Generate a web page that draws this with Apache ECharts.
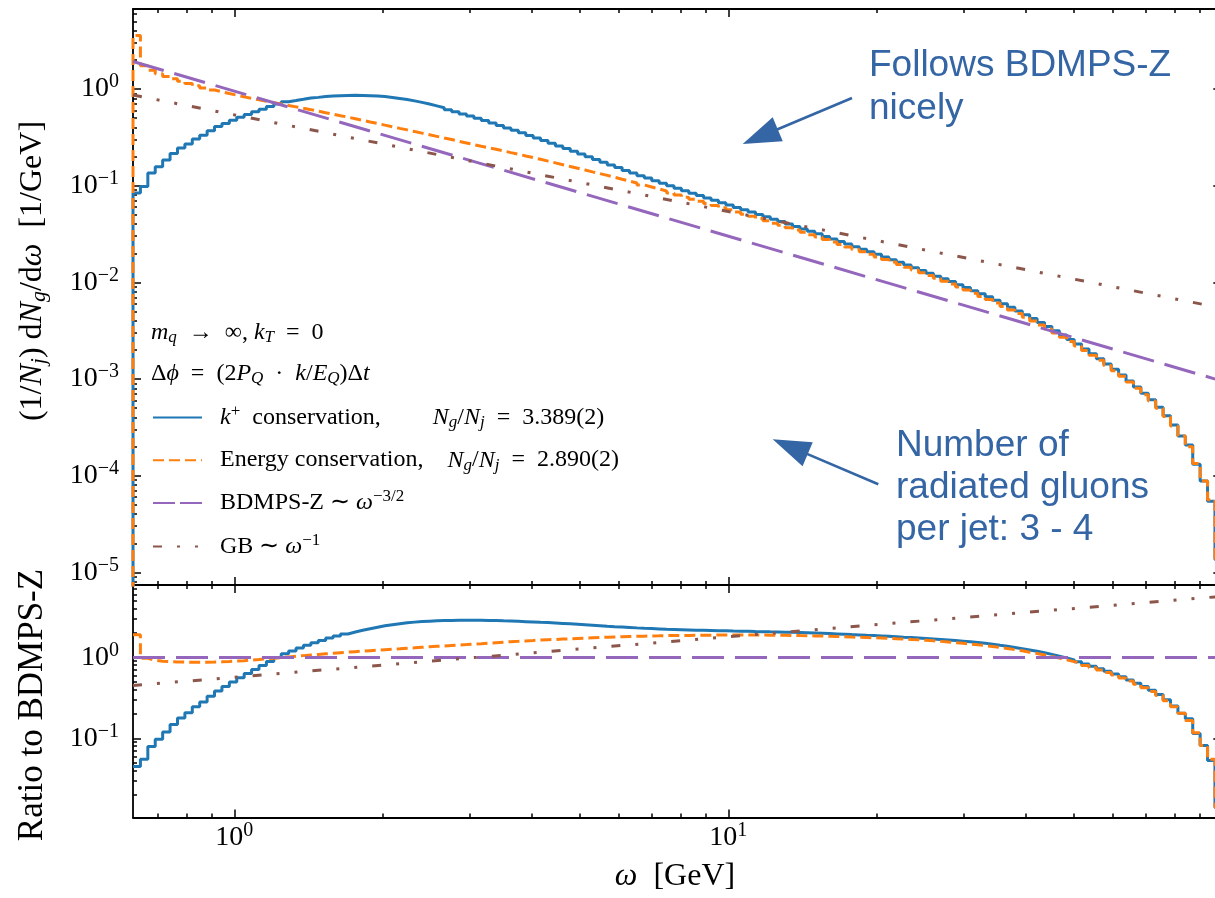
<!DOCTYPE html>
<html><head><meta charset="utf-8">
<script src="https://cdn.jsdelivr.net/npm/echarts@6/dist/echarts.min.js"></script>
<style>html,body{margin:0;padding:0;background:#fff}#c{width:1215px;height:898px}</style>
</head><body><div id="c"></div>
<script>
// ---------------- data ----------------
// log-spaced histogram bins in omega [GeV]
const binLogStart = -0.205;   // log10 of first bin edge
const binLogWidth = 0.015;    // bin width in decades
// (1/N_j) dN_g/domega, k+ conservation
const kPlusDensity = [0.0840,0.0981,0.135,0.157,0.184,0.215,0.245,0.270,0.305,0.332,0.371,0.409,0.441,0.475,0.512,0.545,0.581,0.619,0.659,0.702,0.740,0.761,0.783,0.806,0.820,0.835,0.849,0.854,0.859,0.860,0.859,0.854,0.845,0.835,0.819,0.799,0.778,0.754,0.728,0.699,0.670,0.641,0.611,0.581,0.553,0.525,0.498,0.472,0.446,0.420,0.396,0.374,0.352,0.331,0.311,0.293,0.275,0.258,0.242,0.227,0.213,0.199,0.187,0.175,0.164,0.154,0.144,0.135,0.127,0.120,0.1125,0.1058,0.0998,0.0941,0.0887,0.0837,0.0791,0.0747,0.0706,0.0667,0.0631,0.0596,0.0564,0.0533,0.0504,0.0476,0.0450,0.0425,0.0402,0.0379,0.0357,0.0337,0.0318,0.0299,0.0281,0.0265,0.0249,0.0234,0.0220,0.0207,0.0195,0.0183,0.0171,0.0161,0.0151,0.0142,0.0133,0.0124,0.0116,0.0109,0.0102,0.00947,0.00883,0.00821,0.00764,0.00709,0.00652,0.00600,0.00552,0.00506,0.00463,0.00423,0.00385,0.00350,0.00316,0.00285,0.00256,0.00230,0.00205,0.00183,0.00162,0.00143,0.00126,0.00110,0.000955,0.000825,0.000714,0.000612,0.000512,0.000418,0.000334,0.000258,0.000208,0.000131,0.0000879,0.0000545,0.0000136];
// (1/N_j) dN_g/domega, energy conservation
const energyDensity = [3.58,1.744,1.563,1.440,1.352,1.275,1.205,1.139,1.081,1.027,0.979,0.936,0.899,0.864,0.830,0.801,0.773,0.747,0.723,0.699,0.676,0.654,0.632,0.612,0.590,0.569,0.550,0.530,0.512,0.493,0.474,0.456,0.440,0.423,0.407,0.392,0.378,0.363,0.350,0.337,0.324,0.311,0.300,0.288,0.277,0.266,0.256,0.247,0.238,0.229,0.220,0.2116,0.2032,0.1952,0.1875,0.1797,0.1722,0.1650,0.1581,0.1515,0.1452,0.1391,0.1334,0.1278,0.1222,0.1168,0.1117,0.1066,0.1016,0.0969,0.0925,0.0882,0.0839,0.0799,0.0760,0.0724,0.0689,0.0655,0.0624,0.0593,0.0564,0.0535,0.0508,0.0483,0.0457,0.0433,0.0410,0.0389,0.0368,0.0348,0.0329,0.0311,0.0294,0.0277,0.0261,0.0246,0.0232,0.0219,0.0207,0.0195,0.0183,0.0172,0.0162,0.0153,0.0143,0.0134,0.0126,0.0118,0.0110,0.0103,0.00960,0.00894,0.00832,0.00772,0.00716,0.00663,0.00612,0.00564,0.00519,0.00476,0.00436,0.00398,0.00362,0.00329,0.00299,0.00270,0.00244,0.00220,0.00197,0.00176,0.00156,0.00138,0.00122,0.00107,0.000929,0.000803,0.000689,0.000591,0.000500,0.000409,0.000327,0.000258,0.000199,0.000134,0.0000879,0.0000564,0.0000138];
// ratio to BDMPS-Z, k+ conservation
const kPlusRatio = [0.0447,0.0550,0.0794,0.0977,0.120,0.148,0.178,0.207,0.245,0.282,0.331,0.385,0.437,0.495,0.562,0.631,0.708,0.794,0.891,1.000,1.109,1.202,1.303,1.413,1.514,1.622,1.738,1.841,1.950,2.056,2.163,2.265,2.360,2.455,2.535,2.606,2.673,2.729,2.773,2.805,2.831,2.851,2.864,2.871,2.877,2.877,2.871,2.864,2.851,2.831,2.812,2.793,2.767,2.742,2.716,2.692,2.661,2.630,2.600,2.570,2.535,2.500,2.466,2.432,2.399,2.371,2.344,2.317,2.291,2.270,2.249,2.228,2.213,2.198,2.183,2.168,2.158,2.148,2.138,2.128,2.118,2.109,2.099,2.089,2.080,2.070,2.061,2.051,2.042,2.028,2.014,2.000,1.986,1.968,1.950,1.932,1.914,1.897,1.879,1.862,1.841,1.820,1.799,1.778,1.758,1.738,1.714,1.690,1.667,1.641,1.614,1.585,1.556,1.524,1.493,1.459,1.413,1.371,1.327,1.282,1.236,1.189,1.140,1.089,1.038,0.986,0.933,0.881,0.828,0.776,0.724,0.675,0.625,0.575,0.526,0.479,0.437,0.394,0.347,0.299,0.251,0.204,0.174,0.115,0.0813,0.0531,0.0140];
// ratio to BDMPS-Z, energy conservation
const energyRatio = [1.905,0.977,0.923,0.895,0.885,0.879,0.875,0.871,0.871,0.871,0.875,0.881,0.891,0.902,0.912,0.927,0.942,0.959,0.977,0.995,1.014,1.033,1.052,1.072,1.089,1.107,1.125,1.143,1.161,1.178,1.194,1.211,1.227,1.245,1.262,1.279,1.297,1.315,1.334,1.352,1.371,1.387,1.406,1.422,1.439,1.459,1.479,1.500,1.521,1.542,1.563,1.581,1.600,1.618,1.637,1.652,1.667,1.683,1.698,1.714,1.730,1.746,1.762,1.778,1.791,1.803,1.816,1.824,1.832,1.841,1.849,1.858,1.862,1.866,1.871,1.875,1.879,1.884,1.888,1.892,1.892,1.892,1.892,1.892,1.888,1.884,1.879,1.875,1.871,1.862,1.854,1.845,1.837,1.824,1.811,1.799,1.786,1.774,1.762,1.750,1.734,1.718,1.702,1.687,1.667,1.648,1.626,1.603,1.578,1.552,1.524,1.496,1.466,1.432,1.400,1.365,1.327,1.288,1.247,1.205,1.161,1.117,1.072,1.026,0.979,0.933,0.887,0.841,0.794,0.746,0.698,0.652,0.605,0.558,0.512,0.466,0.421,0.380,0.339,0.292,0.245,0.204,0.166,0.117,0.0813,0.0550,0.0141];
// straight reference lines (end points)
const lineOmega = [0.6237, 100];
const bdmpsDensity = [1.93, 0.00095];
const gbDensity = [0.867, 0.00541];
const bdmpsRatio = [1, 1];
const gbRatio = [0.449, 5.69];
// axes
const xRange = [0.6237, 99.5];
const yTopRange = [7.4e-6, 6.73];
const yBottomRange = [0.0105, 7.85];
const xMajorTicks = [1, 10];
const yTopMajorTicks = [1e-5, 1e-4, 1e-3, 1e-2, 1e-1, 1];
const yBottomMajorTicks = [0.1, 1];
const seriesNames = ['k+ conservation', 'Energy conservation', 'BDMPS-Z', 'GB'];

// ---------------- helpers ----------------
const SERIF = 'Liberation Serif';
const SANS = 'Liberation Sans';
const L = Math.log10;
const COLORS = ['#1f77b4', '#ff7f0e', '#9467bd', '#8c564b'];
const DASHES = ['solid', [11, 5], [32, 11], [9, 15, 3, 15, 3, 15]];
const LEGEND_DASHES = ['solid', [11, 5], [22, 5], [9, 15, 3, 15, 3, 15]];

function minorTicks(lo, hi) {
  const out = [];
  for (let d = Math.floor(L(lo)) - 1; d <= Math.ceil(L(hi)); d++)
    for (let m = 2; m <= 9; m++) { const v = m * Math.pow(10, d); if (v > lo && v < hi) out.push(L(v)); }
  return out;
}
function stepData(vals, closed) {
  const d = [];
  const n = vals.length;
  if (closed) d.push([binLogStart, -12]);
  vals.forEach((v, k) => d.push([binLogStart + binLogWidth * k, L(v)]));
  d.push([binLogStart + binLogWidth * n, L(vals[n - 1])]);
  if (closed) d.push([binLogStart + binLogWidth * n, -12]);
  return d;
}
function lineData(xs, ys) { return xs.map((x, i) => [L(x), L(ys[i])]); }

const tickRich = {
  b: { fontFamily: SERIF, fontSize: 28, lineHeight: 32, color: '#000' },
  s: { fontFamily: SERIF, fontSize: 20, lineHeight: 18, padding: [0, 0, 14, 0], color: '#000' }
};
const powFmt = v => { const e = Math.round(v); return '{b|10}{s|' + (e < 0 ? '\u2212' + (-e) : e) + '}'; };

function axis(grid, pos, range, ticks, len, line, labels, margin) {
  return {
    type: 'value', gridIndex: grid, position: pos, min: L(range[0]), max: L(range[1]),
    splitLine: { show: false },
    axisLine: { show: line, onZero: false, lineStyle: { color: '#000', width: 1.8 } },
    axisTick: { show: true, inside: true, length: len, customValues: ticks, lineStyle: { color: '#000', width: 1.5 } },
    axisLabel: labels ? { show: true, customValues: ticks, formatter: powFmt, rich: tickRich, margin: margin, color: '#000' } : { show: false },
    axisPointer: { show: false }
  };
}
const xMaj = xMajorTicks.map(L), xMin = minorTicks(xRange[0], xRange[1]);
const ytMaj = yTopMajorTicks.map(L), ytMin = minorTicks(yTopRange[0], yTopRange[1]);
const ybMaj = yBottomMajorTicks.map(L), ybMin = minorTicks(yBottomRange[0], yBottomRange[1]);

const xAxes = [
  axis(0, 'bottom', xRange, xMaj, 8, true, false),
  axis(0, 'bottom', xRange, xMin, 4, false, false),
  axis(0, 'top', xRange, xMaj, 8, true, false),
  axis(0, 'top', xRange, xMin, 4, false, false),
  axis(1, 'bottom', xRange, xMaj, 8, true, true, 4),
  axis(1, 'bottom', xRange, xMin, 4, false, false),
  axis(1, 'top', xRange, xMaj, 8, true, false),
  axis(1, 'top', xRange, xMin, 4, false, false)
];
const yAxes = [
  axis(0, 'left', yTopRange, ytMaj, 8, true, true, 14),
  axis(0, 'left', yTopRange, ytMin, 4, false, false),
  axis(0, 'right', yTopRange, ytMaj, 8, true, false),
  axis(0, 'right', yTopRange, ytMin, 4, false, false),
  axis(1, 'left', yBottomRange, ybMaj, 8, true, true, 14),
  axis(1, 'left', yBottomRange, ybMin, 4, false, false),
  axis(1, 'right', yBottomRange, ybMaj, 8, true, false),
  axis(1, 'right', yBottomRange, ybMin, 4, false, false)
];

function lineSeries(name, idx, data, axisIdx, step) {
  return {
    type: 'line', name: name, xAxisIndex: axisIdx, yAxisIndex: axisIdx, data: data,
    step: step ? 'end' : false, symbol: 'none', showSymbol: false, clip: true, silent: true,
    lineStyle: { color: COLORS[idx], width: 3, type: DASHES[idx], cap: 'butt' },
    itemStyle: { color: COLORS[idx] }, z: 2 + idx, animation: false
  };
}
const series = [
  lineSeries(seriesNames[0], 0, stepData(kPlusDensity, true), 0, true),
  lineSeries(seriesNames[1], 1, stepData(energyDensity, true), 0, true),
  lineSeries(seriesNames[2], 2, lineData(lineOmega, bdmpsDensity), 0, false),
  lineSeries(seriesNames[3], 3, lineData(lineOmega, gbDensity), 0, false),
  lineSeries('k+ ratio', 0, stepData(kPlusRatio, false), 4, true),
  lineSeries('Energy ratio', 1, stepData(energyRatio, false), 4, true),
  lineSeries('BDMPS-Z ratio', 2, lineData(lineOmega, bdmpsRatio), 4, false),
  lineSeries('GB ratio', 3, lineData(lineOmega, gbRatio), 4, false)
];

// rich styles for math-like text
function mathRich(size) {
  const sub = Math.round(size * 0.7);
  const lh = Math.round(size * 1.25);
  return {
    r: { fontFamily: SERIF, fontSize: size, lineHeight: lh, color: '#000' },
    i: { fontFamily: SERIF, fontStyle: 'italic', fontSize: size, lineHeight: lh, color: '#000' },
    sub: { fontFamily: SERIF, fontStyle: 'italic', fontSize: sub, lineHeight: lh - Math.round(size * 0.42), padding: [Math.round(size * 0.42), 0, 0, 0], color: '#000' },
    sup: { fontFamily: SERIF, fontSize: sub, lineHeight: lh - Math.round(size * 0.5), padding: [0, 0, Math.round(size * 0.5), 0], color: '#000' },
    g0: { width: 13, fontSize: size, lineHeight: lh },
    gA: { width: 52, fontSize: size, lineHeight: lh },
    gB: { width: 24, fontSize: size, lineHeight: lh }
  };
}
const legendText = {};
legendText[seriesNames[0]] = '{g0| }{i|k}{sup|+}{r|\u2002conservation,}{gA| }{i|N}{sub|g}{r|/}{i|N}{sub|j}{r|\u2002=\u20023.389(2)}';
legendText[seriesNames[1]] = '{g0| }{r|Energy conservation,}{gB| }{i|N}{sub|g}{r|/}{i|N}{sub|j}{r|\u2002=\u20022.890(2)}';
legendText[seriesNames[2]] = '{g0| }{r|BDMPS-Z \u223c }{i|\u03c9}{sup|\u22123/2}';
legendText[seriesNames[3]] = '{g0| }{r|GB \u223c }{i|\u03c9}{sup|\u22121}';

const ANN = '#3465a4';
function arrow(tail, tip) {
  const dx = tip[0] - tail[0], dy = tip[1] - tail[1];
  const len = Math.hypot(dx, dy), ux = dx / len, uy = dy / len;
  const hl = 38, hw = 13;
  const bx = tip[0] - ux * hl, by = tip[1] - uy * hl;
  return [
    { type: 'line', silent: true, shape: { x1: tail[0], y1: tail[1], x2: bx + ux * 2, y2: by + uy * 2 }, style: { stroke: ANN, lineWidth: 2.6 } },
    { type: 'polygon', silent: true, shape: { points: [tip, [bx - uy * hw, by + ux * hw], [bx + uy * hw, by - ux * hw]] }, style: { fill: ANN } }
  ];
}
function sansLine(text, x, y) {
  return { type: 'text', silent: true, x: x, y: y, style: { text: text, fontFamily: SANS, fontSize: 37, fill: ANN, align: 'left', verticalAlign: 'middle' } };
}
function richText(text, x, y, size, rot, align) {
  return { type: 'text', silent: true, x: x, y: y, rotation: rot || 0,
    style: { text: text, rich: mathRich(size), fontFamily: SERIF, fontSize: size, fill: '#000', align: align || 'left', verticalAlign: 'middle' } };
}

const graphics = [
  richText('{i|m}{sub|q}{r|\u2002\u2192\u2002\u221e, }{i|k}{sub|T}{r|\u2002=\u20020}', 151, 333, 24),
  richText('{r|\u0394}{i|\u03d5}{r|\u2002=\u2002(2}{i|P}{sub|Q}{r|\u2002\u00b7\u2002}{i|k}{r|/}{i|E}{sub|Q}{r|)\u0394}{i|t}', 151, 374, 24),
  richText('{r|(1/}{i|N}{sub|j}{r|) d}{i|N}{sub|g}{r|/d}{i|\u03c9}{r|  [1/GeV]}', 33, 271, 32, Math.PI / 2, 'center'),
  richText('{r|Ratio to BDMPS-Z}', 33, 705, 35, Math.PI / 2, 'center'),
  richText('{i|\u03c9}{r|  [GeV]}', 675, 877, 32, 0, 'center'),
  sansLine('Follows BDMPS-Z', 869, 66),
  sansLine('nicely', 869, 108.5),
  sansLine('Number of', 896, 446),
  sansLine('radiated gluons', 896, 487.5),
  sansLine('per jet: 3 - 4', 896, 529.5)
].concat(arrow([852, 98], [742.7, 144]), arrow([878.3, 484.3], [772.7, 439.3]));

const chart = echarts.init(document.getElementById('c'), null, { renderer: 'canvas', width: 1215, height: 898 });
chart.setOption({
  backgroundColor: '#fff',
  animation: false,
  grid: [
    { left: 133, top: 9, width: 1088.3, height: 576, containLabel: false, outerBoundsMode: 'none' },
    { left: 133, top: 585, width: 1088.3, height: 232.5, containLabel: false, outerBoundsMode: 'none' }
  ],
  xAxis: xAxes,
  yAxis: yAxes,
  legend: {
    show: true,
    data: seriesNames.map((n, i) => ({ name: n, lineStyle: { type: LEGEND_DASHES[i] } })),
    orient: 'vertical', left: 152, top: 403,
    itemWidth: 49, itemHeight: 14, itemGap: 14.7, selectedMode: false, padding: 0,
    itemStyle: { opacity: 0 },
    formatter: n => legendText[n],
    textStyle: { fontFamily: SERIF, fontSize: 24, color: '#000', rich: mathRich(24) }
  },
  series: series,
  graphic: { elements: graphics }
});
</script></body></html>
